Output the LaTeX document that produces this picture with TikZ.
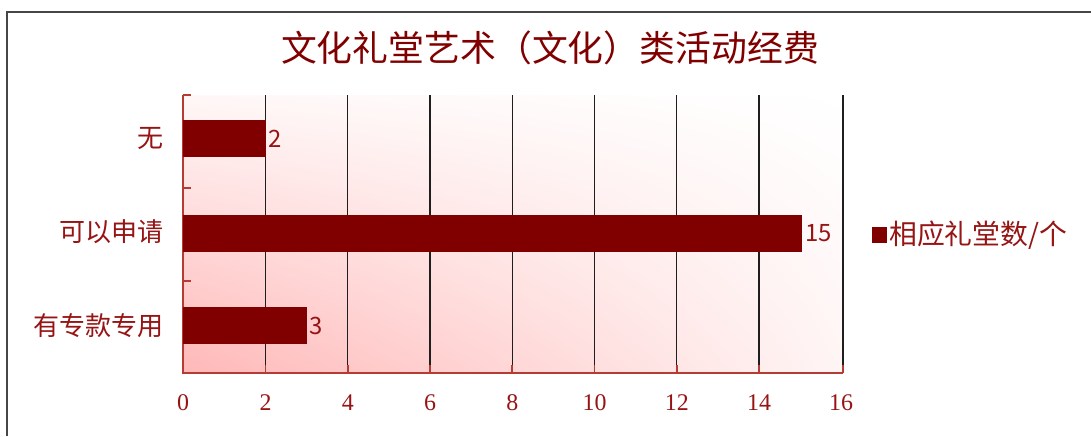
\documentclass[tikz,border=0pt]{standalone}
\usepackage{fontspec}
\usetikzlibrary{shadings}
\newfontfamily\cjk{Noto Sans CJK SC}
\newfontfamily\numfont{Liberation Serif}
\definecolor{barred}{RGB}{128,0,0}
\definecolor{axisred}{RGB}{180,60,50}
\definecolor{labelred}{RGB}{150,20,20}
\definecolor{gridgray}{RGB}{30,30,30}
\definecolor{framegray}{RGB}{70,70,70}
\tikzset{
  catlabel/.style={anchor=east, inner sep=0pt, text=labelred, font=\cjk\fontsize{18.5}{20}\selectfont},
  vallabel/.style={anchor=west, inner sep=0pt, text=labelred, font=\cjk\fontsize{17}{18}\selectfont},
  ticklabel/.style={inner sep=0pt, text=labelred, font=\numfont\fontsize{17}{18}\selectfont},
  gridline/.style={gridgray, line width=1pt},
  axisline/.style={axisred, line width=1.4pt},
  barfill/.style={fill=barred},
}
\begin{document}
\begin{tikzpicture}[x=0.025cm, y=0.025cm]
    \useasboundingbox (0,0) rectangle (1091,436) ;
    \draw [framegray, line width=1.4pt] (7,0) -- (7,424) -- (1091,424) ;
    \node (title) [text=barred, font=\cjk\fontsize{25.5}{27}\selectfont] at (550,388) {文化礼堂艺术（文化）类活动经费} ;

    % plot area
    \shade [upper left=red!3, upper right=white, lower left=red!28, lower right=red!4] (183,63) rectangle (843,341) ;
    \draw [gridline] (265.5,71) -- (265.5,341) ;
    \draw [gridline] (347.75,71) -- (347.75,341) ;
    \draw [gridline] (430,71) -- (430,341) ;
    \draw [gridline] (512.25,71) -- (512.25,341) ;
    \draw [gridline] (594.5,71) -- (594.5,341) ;
    \draw [gridline] (676.75,71) -- (676.75,341) ;
    \draw [gridline] (759,71) -- (759,341) ;
    \draw [gridline] (843,71) -- (843,341) ;
    \draw [axisline] (265.5,63) -- ++(0,8) (347.75,63) -- ++(0,8) (430,63) -- ++(0,8) (512.25,63) -- ++(0,8)
        (594.5,63) -- ++(0,8) (676.75,63) -- ++(0,8) (759,63) -- ++(0,8) (843,63) -- ++(0,8) ;
    \draw [axisline] (183,341) -- ++(8,0) (183,248) -- ++(8,0) (183,155) -- ++(8,0) ;
    \draw [axisline] (183,341) -- (183,63) -- (843,63) ;

    % bars
    \fill [barfill] (183,279) rectangle (265.5,316) ;
    \fill [barfill] (183,184) rectangle (801.75,221) ;
    \fill [barfill] (183,92) rectangle (306.75,129) ;
    \node (val1) [vallabel] at (268,297.5) {2} ;
    \node (val2) [vallabel] at (805,202.5) {15} ;
    \node (val3) [vallabel] at (309.5,110.5) {3} ;

    % category labels
    \node (cat1) [catlabel] at (164,298) {无} ;
    \node (cat2) [catlabel] at (164,204) {可以申请} ;
    \node (cat3) [catlabel] at (164,110) {有专款专用} ;

    % axis numbers
    \node (t0) [ticklabel] at (183,33) {0} ;
    \node (t2) [ticklabel] at (265.5,33) {2} ;
    \node (t4) [ticklabel] at (347.75,33) {4} ;
    \node (t6) [ticklabel] at (430,33) {6} ;
    \node (t8) [ticklabel] at (512.25,33) {8} ;
    \node (t10) [ticklabel] at (594.5,33) {10} ;
    \node (t12) [ticklabel] at (676.75,33) {12} ;
    \node (t14) [ticklabel] at (759,33) {14} ;
    \node (t16) [ticklabel] at (841,33) {16} ;

    % legend
    \fill [barfill] (872,193) rectangle (887,209) ;
    \node (legend) [catlabel, anchor=west, font=\cjk\fontsize{19.8}{21}\selectfont] at (889,201) {相应礼堂数/个} ;
\end{tikzpicture}
\end{document}
